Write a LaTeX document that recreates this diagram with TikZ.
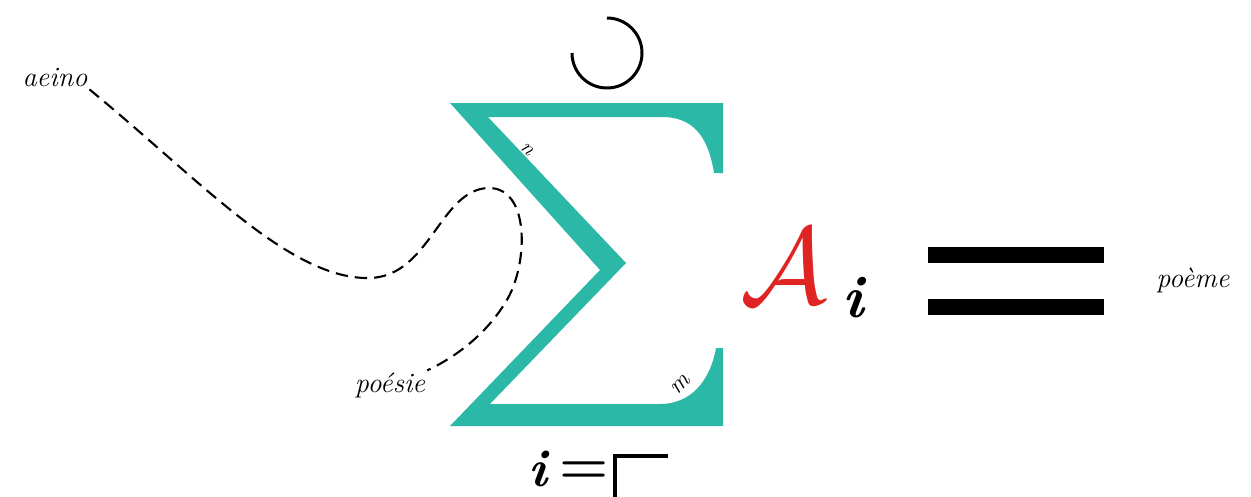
\documentclass[tikz,border=0pt]{standalone}
\usepackage{fix-cm}
\usepackage{fontspec}
\usepackage{amsmath}
\usetikzlibrary{calc}
\definecolor{sigmateal}{RGB}{43,184,166}
\definecolor{scriptred}{RGB}{224,36,36}
\tikzset{
  wordlabel/.style={font=\itshape\fontsize{16}{16}\selectfont, inner sep=1pt},
  boundlabel/.style={font=\itshape, inner sep=0pt},
  thread/.style={dash pattern=on 7pt off 4pt, line width=1.2pt},
  eqbar/.style={fill=black}
}

\begin{document}
\begin{tikzpicture}[x=0.02cm, y=-0.02cm]
  \useasboundingbox (0,0) rectangle (1251,497);
  % the big sigma
  \fill[sigmateal] (450,103) -- (723,103) -- (723,173) -- (714,173)
    .. controls (708,135) and (692,117) .. (662,117) -- (488,117)
    -- (626,263) -- (490,404) -- (660,404)
    .. controls (690,404) and (710,382) .. (716,348) -- (723,348)
    -- (723,426) -- (450,426) -- (600,270) -- cycle;
  \node[boundlabel, font=\itshape\fontsize{12}{12}\selectfont, rotate=-45] (upper) at (527,149) {n};
  \node[boundlabel, font=\itshape\fontsize{14}{14}\selectfont, rotate=45] (lower) at (681,385) {m};
  % open circle on top
  \draw[line width=1.7pt] (607,18) arc[start angle=-90, end angle=180, radius=35];
  % summand
  \node[text=scriptred, inner sep=0pt, font=\fontsize{62}{62}\selectfont] (summand) at (784,266) {$\mathcal{A}$};
  \node[inner sep=0pt, font=\bfseries\itshape\fontsize{34}{34}\selectfont] (index) at (853,298) {i};
  % index below
  \node[inner sep=0pt, font=\bfseries\itshape\fontsize{30}{30}\selectfont] (bottomi) at (538,469) {i};
  \node[inner sep=0pt, font=\bfseries\fontsize{32}{32}\selectfont] (eqsign) at (584,473) {=};
  \draw[line width=2.5pt] (615,497) -- (615,456) -- (668,456);
  % equals bars
  \fill[eqbar] (928,247) rectangle (1104,263);
  \fill[eqbar] (928,299) rectangle (1104,315);
  % words
  \node[wordlabel] (aeino) at (55,78) {aeino};
  \node[wordlabel] (poesie) at (390,385) {poésie};
  \node[wordlabel] (poeme) at (1193,280) {poème};
  \draw[thread] (aeino.south east) .. controls (200,180) and (290,280) .. (370,278)
    .. controls (430,276) and (440,190) .. (488,188)
    .. controls (530,187) and (528,262) .. (508,298)
    .. controls (490,330) and (460,355) .. (poesie.north east);
\end{tikzpicture}
\end{document}
